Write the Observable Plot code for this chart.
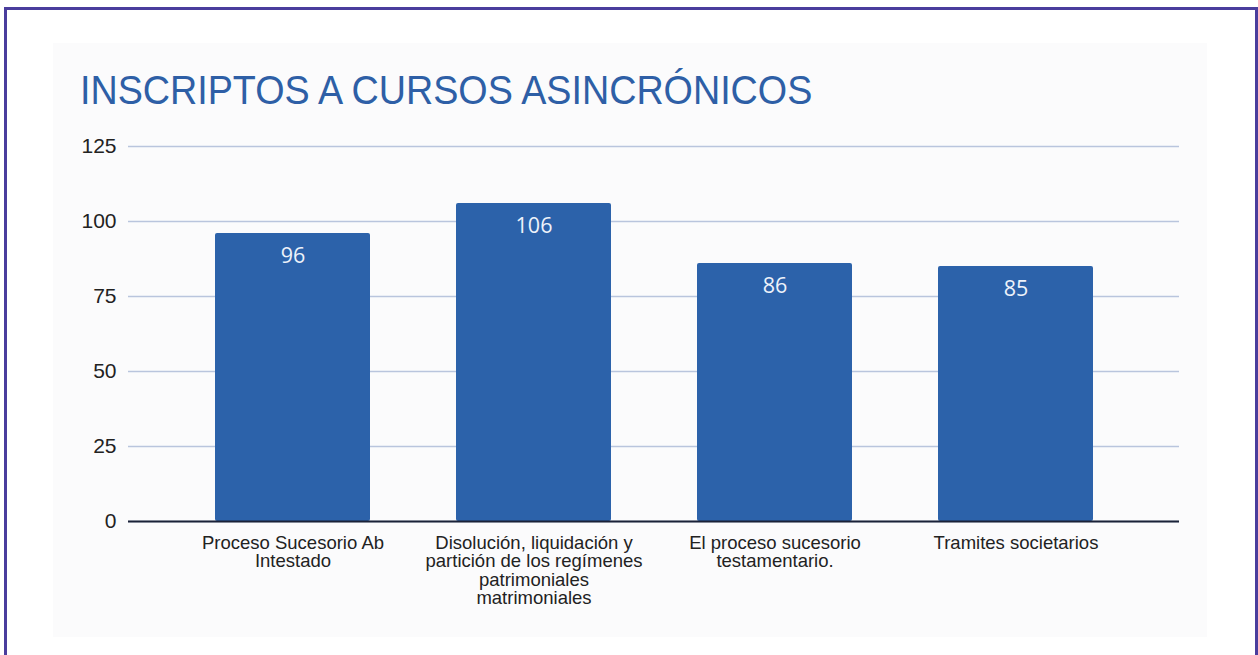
<!DOCTYPE html>
<html>
<head>
<meta charset="utf-8">
<script src="https://cdn.jsdelivr.net/npm/d3@7"></script>
<script src="https://cdn.jsdelivr.net/npm/@observablehq/plot@0.6"></script>
<style>
  html, body { margin: 0; padding: 0; background: #ffffff; width: 1258px; height: 655px; overflow: hidden; }
  #frame { position: absolute; left: 4px; top: 7px; width: 1248px; height: 700px; border: 3px solid #4a3d9d; }
  #panel { position: absolute; left: 53px; top: 43px; width: 1154px; height: 594px; background: #fbfbfc; }
  #title { position: absolute; left: 80px; top: 73px; font-family: "Liberation Sans", Arial, sans-serif; font-size: 37.7px; line-height: 37.7px; color: #2e5fa6; white-space: nowrap; transform: scaleY(1.06); transform-origin: left bottom; }
  #chart { position: absolute; left: 0; top: 0; }
</style>
</head>
<body>
<div id="frame"></div>
<div id="panel"></div>
<div id="chart"></div>
<div id="title">INSCRIPTOS A CURSOS ASINCRÓNICOS</div>
<script>
const categories = [
  "Proceso Sucesorio Ab Intestado",
  "Disolución, liquidación y partición de los regímenes patrimoniales matrimoniales",
  "El proceso sucesorio testamentario.",
  "Tramites societarios"
];
const values = [96, 106, 86, 85];
const tickLabels = [
  "Proceso Sucesorio Ab\nIntestado",
  "Disolución, liquidación y\npartición de los regímenes\npatrimoniales\nmatrimoniales",
  "El proceso sucesorio\ntestamentario.",
  "Tramites societarios"
];
const yTicks = [0, 25, 50, 75, 100, 125];

const data = categories.map((c, i) => ({category: c, value: values[i]}));
const labelOf = new Map(categories.map((c, i) => [c, tickLabels[i]]));

const chart = Plot.plot({
  width: 1258,
  height: 655,
  marginLeft: 128,
  marginRight: 79,
  marginTop: 146,
  marginBottom: 134,
  style: {background: "transparent", fontFamily: "'Liberation Sans', Arial, sans-serif", color: "#222"},
  x: {domain: categories, paddingInner: 0.3586, paddingOuter: 0.354, label: null},
  y: {domain: [0, 125], label: null},
  marks: [
    Plot.gridY(yTicks, {stroke: "#b9c5dd", strokeOpacity: 1, strokeWidth: 1.4}),
    Plot.barY(data, {x: "category", y: "value", fill: "#2c62aa", rx: 2}),
    Plot.ruleY([0], {stroke: "#1b2238", strokeWidth: 2}),
    Plot.text(data, {x: "category", y: "value", text: d => String(d.value), lineAnchor: "top", dy: 14,
      fill: "#eef2fa", fontSize: 21.5, fontFamily: "'Open Sans', sans-serif"}),
    Plot.axisY({ticks: yTicks, tickSize: 0, tickPadding: 12, fontSize: 21, fill: "#222", label: null}),
    Plot.axisX({tickSize: 0, tickPadding: 14, fontSize: 18.5, lineHeight: 1.0, fill: "#222",
      tickFormat: d => labelOf.get(d), label: null})
  ]
});
document.getElementById("chart").appendChild(chart);
</script>
</body>
</html>
